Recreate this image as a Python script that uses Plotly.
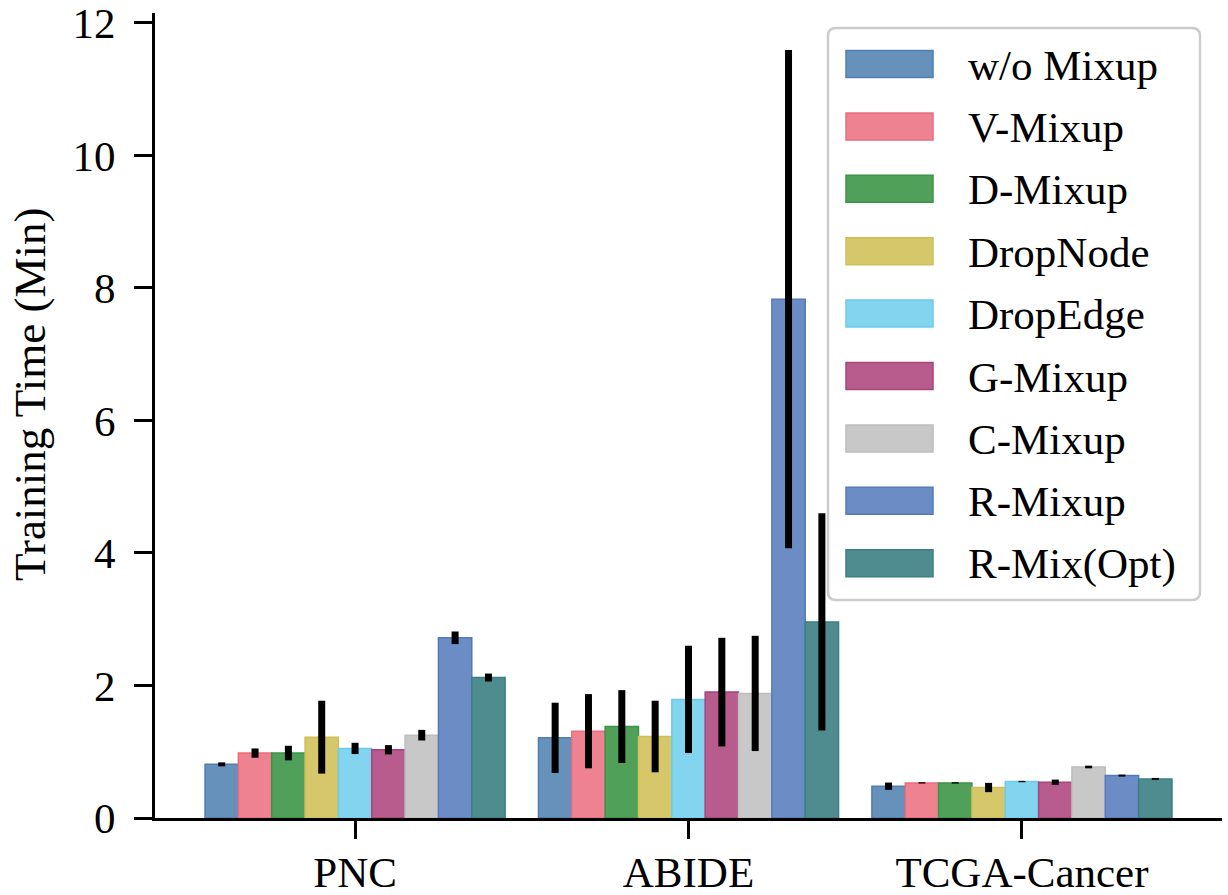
import plotly.graph_objects as go

datasets = ["PNC", "ABIDE", "TCGA-Cancer"]
methods = ["w/o Mixup", "V-Mixup", "D-Mixup", "DropNode", "DropEdge",
           "G-Mixup", "C-Mixup", "R-Mixup", "R-Mix(Opt)"]

# mean training time (min) per method, in dataset order
wo_mixup = [0.81, 1.21, 0.48]
v_mixup = [0.98, 1.31, 0.53]
d_mixup = [0.98, 1.38, 0.53]
dropnode = [1.22, 1.23, 0.46]
dropedge = [1.05, 1.79, 0.55]
g_mixup = [1.03, 1.90, 0.54]
c_mixup = [1.25, 1.88, 0.77]
r_mixup = [2.72, 7.83, 0.64]
r_mix_opt = [2.12, 2.96, 0.59]

# standard deviations
wo_mixup_err = [0.03, 0.53, 0.055]
v_mixup_err = [0.07, 0.56, 0.01]
d_mixup_err = [0.11, 0.55, 0.01]
dropnode_err = [0.55, 0.54, 0.07]
dropedge_err = [0.085, 0.81, 0.01]
g_mixup_err = [0.07, 0.82, 0.04]
c_mixup_err = [0.08, 0.87, 0.02]
r_mixup_err = [0.095, 3.76, 0.015]
r_mix_opt_err = [0.06, 1.64, 0.015]

values = [wo_mixup, v_mixup, d_mixup, dropnode, dropedge, g_mixup, c_mixup, r_mixup, r_mix_opt]
errors = [wo_mixup_err, v_mixup_err, d_mixup_err, dropnode_err, dropedge_err,
          g_mixup_err, c_mixup_err, r_mixup_err, r_mix_opt_err]

colors = ["#6691bb", "#ef8290", "#50a05a", "#d6c86a", "#82d4ef",
          "#b85b8d", "#c8c8c8", "#6b8cc4", "#4f8c90"]
edges = ["#4f7fb0", "#ea6d7e", "#3a9446", "#cfbf55", "#6ccbec",
         "#a8437b", "#bdbdbd", "#5579bb", "#3c7f83"]

FONT = "Liberation Serif, Times New Roman, serif"
FS = 43

fig = go.Figure()
for m, v, e, c, ec in zip(methods, values, errors, colors, edges):
    fig.add_trace(go.Bar(
        name=m, x=datasets, y=v,
        marker=dict(color=c, line=dict(color=ec, width=1.5)),
        error_y=dict(type="data", array=e, visible=True, color="black",
                     thickness=7, width=0),
        showlegend=False,
    ))

# plot-area geometry in pixels (for the hand-made legend)
L, R, T, B = 155, 1222, 13, 818
W, H = 1228, 895

def px(x):
    return (x - L) / (R - L)

def py(y):
    return (B - y) / (B - T)

shapes = []
annotations = []
# legend frame with rounded corners
x0, x1, y0, y1 = 828, 1200, 28, 600
r = 8
path = (f"M {px(x0 + r)},{py(y0)} L {px(x1 - r)},{py(y0)} Q {px(x1)},{py(y0)} {px(x1)},{py(y0 + r)} "
        f"L {px(x1)},{py(y1 - r)} Q {px(x1)},{py(y1)} {px(x1 - r)},{py(y1)} "
        f"L {px(x0 + r)},{py(y1)} Q {px(x0)},{py(y1)} {px(x0)},{py(y1 - r)} "
        f"L {px(x0)},{py(y0 + r)} Q {px(x0)},{py(y0)} {px(x0 + r)},{py(y0)} Z")
shapes.append(dict(type="path", xref="paper", yref="paper", path=path,
                   fillcolor="rgba(255,255,255,0.85)", line=dict(color="#cccccc", width=2.5),
                   layer="above"))
for i, (m, c, ec) in enumerate(zip(methods, colors, edges)):
    cy = 64 + 62.4 * i
    shapes.append(dict(type="rect", xref="paper", yref="paper",
                       x0=px(846), x1=px(933), y0=py(cy + 13.5), y1=py(cy - 13.5),
                       fillcolor=c, line=dict(color=ec, width=1.5), layer="above"))
    annotations.append(dict(xref="paper", yref="paper", x=px(966), y=py(cy + 1),
                            text=m, showarrow=False, xanchor="left", yanchor="middle",
                            font=dict(family=FONT, size=FS, color="black")))

# y-axis title
annotations.append(dict(xref="paper", yref="paper", x=px(30), y=py(395),
                        text="Training Time (Min)", showarrow=False, textangle=-90,
                        xanchor="center", yanchor="middle",
                        font=dict(family=FONT, size=45, color="black")))

fig.update_layout(
    width=W, height=H,
    margin=dict(l=L, r=W - R, t=T, b=H - B, autoexpand=False),
    paper_bgcolor="white", plot_bgcolor="white",
    barmode="group", bargap=0.1, bargroupgap=0,
    font=dict(family=FONT, size=FS, color="black"),
    shapes=shapes, annotations=annotations,
    xaxis=dict(range=[-0.6, 2.6], showline=True, linecolor="black", linewidth=3,
               ticks="outside", ticklen=18, tickwidth=3, tickcolor="black",
               showgrid=False, zeroline=False, tickfont=dict(size=FS),
               ticklabelstandoff=-4, automargin=False),
    yaxis=dict(range=[0, 12.15], tickvals=[0, 2, 4, 6, 8, 10, 12],
               showline=True, linecolor="black", linewidth=3,
               ticks="outside", ticklen=18, tickwidth=3, tickcolor="black",
               showgrid=False, zeroline=False, tickfont=dict(size=FS),
               ticklabelstandoff=10, ticklabeloverflow="allow", automargin=False),
)

fig.write_html("out.html", config={"displayModeBar": False},
               post_script="document.body.style.margin='0';document.body.style.overflow='hidden';")
